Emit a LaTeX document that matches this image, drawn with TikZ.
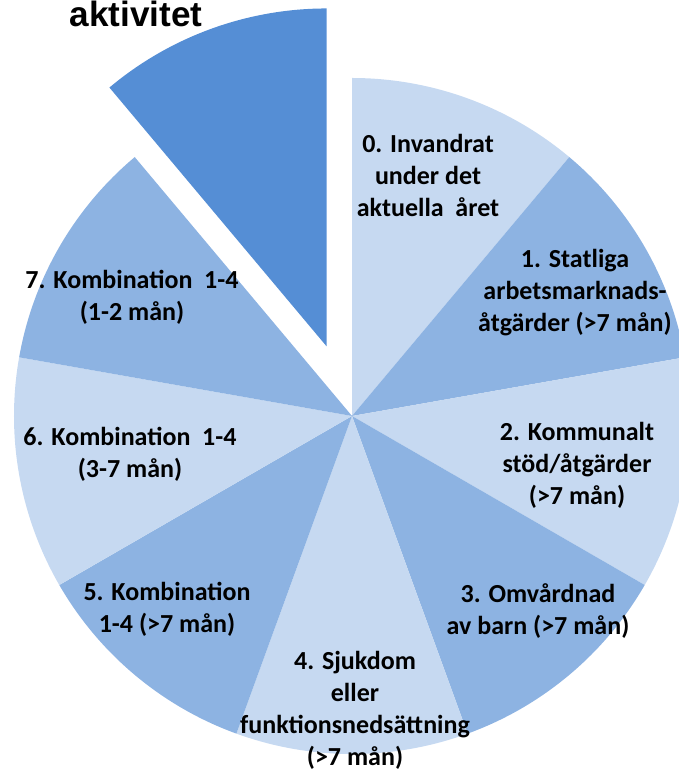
\documentclass[tikz,border=0pt]{standalone}
\usepackage{fontspec}
\setmainfont{Carlito}
\newfontfamily\rubrikfont{Liberation Sans}
\usetikzlibrary{calc}
\definecolor{ljus}{HTML}{C6D9F1}
\definecolor{mellan}{HTML}{8DB3E2}
\definecolor{mork}{HTML}{558ED5}
\tikzset{etikett/.style={align=center, inner sep=0pt, text=black,
    font=\fontsize{14.8}{18.2}\selectfont\bfseries}}

\begin{document}
\begin{tikzpicture}
       \clip (0,0) rectangle (13.58,15.44);
       \coordinate (centrum) at (7.04,7.12);
       % sektorer 0-7, medurs fran klockan 12
       \foreach \start/\farg in {90/ljus, 50/mellan, 10/ljus, -30/mellan, -70/ljus, -110/mellan, -150/ljus, 170/mellan}
    \fill[\farg] (centrum) -- ++(\start:6.76) arc[start angle=\start, end angle=\start-40, radius=6.76] -- cycle;
       % utbruten sektor 8
       \coordinate (spets) at ($(centrum)+(110:1.48)$);
       \fill[mork] (spets) -- ++(130:6.76) arc[start angle=130, end angle=90, radius=6.76] -- cycle;
                 \node[etikett] (n0) at (8.56,11.94) {0. Invandrat\\under det\\aktuella~ året};
                 \node[etikett] (n1) at (11.5,9.58) {1. Statliga\\arbetsmarknads-\\åtgärder (>7 mån)};
                 \node[etikett] (n2) at (11.54,6.14) {2. Kommunalt\\stöd/åtgärder\\(>7 mån)};
                 \node[etikett] (n3) at (10.76,3.22) {3. Omvårdnad\\av barn (>7 mån)};
                 \node[etikett] (n4) at (7.1,1.24) {4. Sjukdom\\eller\\funktionsnedsättning\\(>7 mån)};
                 \node[etikett] (n5) at (3.34,3.26) {5. Kombination\\1-4 (>7 mån)};
                 \node[etikett] (n6) at (2.6,6.36) {6. Kombination~ 1-4\\(3-7 mån)};
                 \node[etikett] (n7) at (2.64,9.5) {7. Kombination~ 1-4\\(1-2 mån)};
       \node[anchor=base, inner sep=0pt, font=\rubrikfont\bfseries\fontsize{20}{24}\selectfont] (rubrik) at (2.72,14.9) {aktivitet};
     \end{tikzpicture}
\end{document}
